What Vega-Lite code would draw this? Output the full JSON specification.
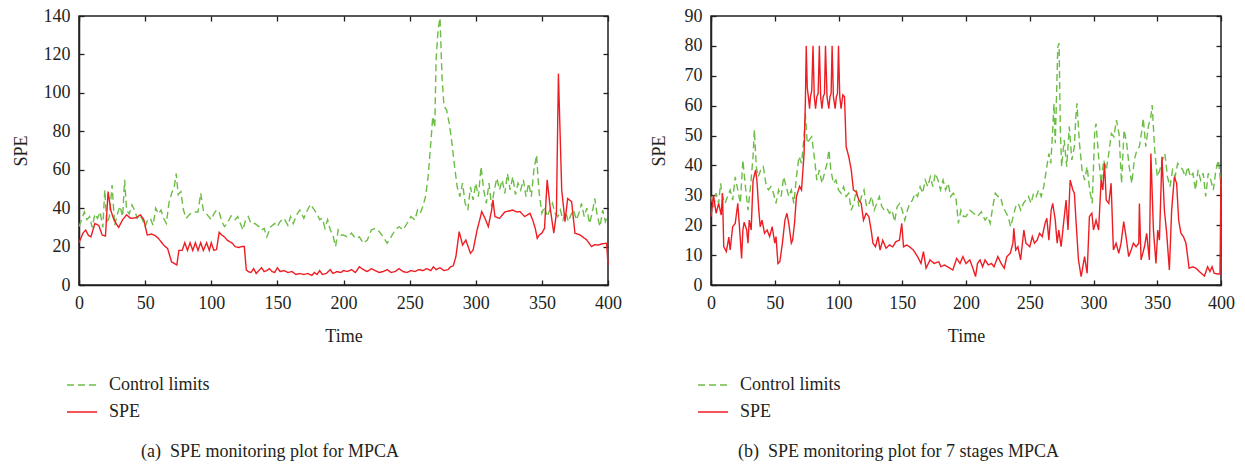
{
"$schema": "https://vega.github.io/schema/vega-lite/v6.json",
"background": "white",
"padding": {"left": 11, "top": 6, "right": 5, "bottom": 5},
"spacing": 26,
"config": {
  "font": "Liberation Serif",
  "view": {"stroke": "#231f20", "strokeWidth": 1.5},
  "axis": {"labelFont": "Liberation Serif", "titleFont": "Liberation Serif", "labelFontSize": 18, "titleFontSize": 18, "titleFontWeight": "normal", "labelColor": "#231f20", "titleColor": "#231f20", "domainColor": "#231f20", "domainWidth": 1.5, "tickColor": "#231f20", "tickSize": -5, "tickWidth": 1.3, "grid": false, "labelPadding": 14, "labelFlush": false},
  "legend": {"labelFont": "Liberation Serif", "labelFontSize": 18, "labelColor": "#231f20", "symbolType": "stroke", "symbolSize": 900, "symbolStrokeWidth": 1.4, "labelOffset": 11, "rowPadding": 2, "orient": "none", "title": null},
  "title": {"font": "Liberation Serif", "fontSize": 18, "fontWeight": "normal", "color": "#231f20"}
},
"resolve": {"scale": {"color": "independent", "strokeDash": "independent"}, "legend": {"color": "independent", "strokeDash": "independent"}},
"datasets": {
"aC": [{"t":0,"v":30.4},{"t":2,"v":34},{"t":4,"v":38},{"t":6,"v":34},{"t":8,"v":35.6},{"t":10,"v":30},{"t":12,"v":37},{"t":14,"v":34.7},{"t":16,"v":38},{"t":18,"v":30},{"t":19.5,"v":49.5},{"t":21,"v":32},{"t":23,"v":35.6},{"t":25,"v":52},{"t":27,"v":31},{"t":29,"v":37},{"t":31,"v":41},{"t":33,"v":35.6},{"t":34.5,"v":54.7},{"t":36,"v":39},{"t":38,"v":37},{"t":40,"v":41.7},{"t":42,"v":39},{"t":44,"v":34.7},{"t":46,"v":36.5},{"t":48,"v":34},{"t":50,"v":30.4},{"t":52,"v":34},{"t":54,"v":34.7},{"t":56,"v":31},{"t":58,"v":40},{"t":60,"v":37},{"t":62,"v":39},{"t":64,"v":34.7},{"t":66,"v":32},{"t":68,"v":42.5},{"t":70,"v":47.7},{"t":72,"v":51},{"t":73.5,"v":58},{"t":75,"v":47},{"t":77,"v":48.6},{"t":79,"v":39},{"t":81,"v":34.7},{"t":84,"v":37},{"t":87,"v":38},{"t":90,"v":38},{"t":92,"v":47.7},{"t":94,"v":39},{"t":97,"v":36.5},{"t":100,"v":34},{"t":102,"v":37},{"t":104,"v":39},{"t":106,"v":38},{"t":108,"v":33},{"t":110,"v":30.4},{"t":112,"v":32},{"t":115,"v":36},{"t":118,"v":34},{"t":120,"v":35.6},{"t":122,"v":32},{"t":124,"v":28.6},{"t":126,"v":34},{"t":128,"v":35.6},{"t":130,"v":32},{"t":133,"v":32},{"t":136,"v":30.4},{"t":138,"v":28.6},{"t":140,"v":29.5},{"t":142,"v":25},{"t":145,"v":30.4},{"t":148,"v":32},{"t":150,"v":30.4},{"t":152,"v":33},{"t":155,"v":34.7},{"t":158,"v":31},{"t":160,"v":35.6},{"t":162,"v":32},{"t":165,"v":37},{"t":167,"v":39},{"t":170,"v":34.7},{"t":172,"v":38},{"t":175,"v":42},{"t":177,"v":40},{"t":180,"v":37},{"t":182,"v":34},{"t":184,"v":34.7},{"t":186,"v":29.5},{"t":188,"v":34},{"t":190,"v":28.6},{"t":192,"v":26},{"t":194,"v":20},{"t":196,"v":28.6},{"t":198,"v":26},{"t":200,"v":26},{"t":203,"v":25},{"t":206,"v":27},{"t":209,"v":24.3},{"t":212,"v":25},{"t":215,"v":21.7},{"t":218,"v":23.4},{"t":221,"v":28.6},{"t":224,"v":29.5},{"t":227,"v":27.8},{"t":230,"v":25},{"t":233,"v":21.7},{"t":236,"v":25},{"t":239,"v":28.6},{"t":242,"v":30.4},{"t":245,"v":28.6},{"t":248,"v":32},{"t":251,"v":35.6},{"t":254,"v":33.9},{"t":256,"v":39},{"t":258,"v":37.3},{"t":260,"v":40.8},{"t":262,"v":46},{"t":264,"v":56.4},{"t":266,"v":73.8},{"t":267.5,"v":87.7},{"t":269,"v":82},{"t":270,"v":117},{"t":271.5,"v":132.8},{"t":273,"v":139},{"t":274.5,"v":108},{"t":276,"v":93},{"t":278,"v":91},{"t":280,"v":84},{"t":282,"v":73.8},{"t":284,"v":61.6},{"t":286,"v":51},{"t":288,"v":46},{"t":290,"v":53},{"t":292,"v":42.5},{"t":294,"v":39},{"t":296,"v":51},{"t":298,"v":44.3},{"t":300,"v":53},{"t":302,"v":46},{"t":304,"v":61.6},{"t":306,"v":49.5},{"t":308,"v":42.5},{"t":310,"v":53},{"t":312,"v":40.8},{"t":314,"v":49.5},{"t":316,"v":55.6},{"t":318,"v":49.5},{"t":320,"v":54.7},{"t":322,"v":47.7},{"t":324,"v":58},{"t":326,"v":49.5},{"t":328,"v":56.4},{"t":330,"v":47},{"t":332,"v":53},{"t":334,"v":49.5},{"t":336,"v":54.7},{"t":338,"v":46},{"t":340,"v":53},{"t":342,"v":46},{"t":344,"v":60},{"t":346,"v":67.7},{"t":347,"v":56.4},{"t":348,"v":47.7},{"t":350,"v":37.3},{"t":352,"v":40.8},{"t":354,"v":35.6},{"t":356,"v":39},{"t":358,"v":42.5},{"t":360,"v":37.3},{"t":362,"v":35.6},{"t":364,"v":39},{"t":366,"v":33.9},{"t":368,"v":38.2},{"t":370,"v":33},{"t":372,"v":36.5},{"t":374,"v":39},{"t":376,"v":33.9},{"t":378,"v":37.3},{"t":380,"v":42.5},{"t":382,"v":35.6},{"t":384,"v":40},{"t":386,"v":32},{"t":388,"v":37.3},{"t":390,"v":45},{"t":392,"v":35.6},{"t":394,"v":30.4},{"t":396,"v":39},{"t":398,"v":33},{"t":400,"v":36.5}],
"aS": [{"t":0,"v":22},{"t":3,"v":27},{"t":5,"v":28.6},{"t":7,"v":26},{"t":9,"v":25},{"t":12,"v":32},{"t":15,"v":31},{"t":17.5,"v":26},{"t":20,"v":25.5},{"t":22,"v":48.6},{"t":24,"v":39},{"t":26,"v":34.7},{"t":28,"v":32},{"t":30,"v":30},{"t":33,"v":34},{"t":36,"v":36.5},{"t":39,"v":34.7},{"t":43,"v":35},{"t":46.5,"v":36.5},{"t":49,"v":34},{"t":51.6,"v":26},{"t":55,"v":26.5},{"t":58,"v":25.5},{"t":60,"v":24.3},{"t":64,"v":20.8},{"t":67,"v":19},{"t":70,"v":12},{"t":74,"v":10.4},{"t":75.5,"v":18},{"t":78,"v":18},{"t":80,"v":22},{"t":82,"v":18},{"t":84,"v":22},{"t":86,"v":18},{"t":88,"v":22},{"t":90,"v":18},{"t":92,"v":22},{"t":94,"v":18},{"t":96.5,"v":22},{"t":98.5,"v":18},{"t":100,"v":22},{"t":102,"v":18},{"t":104,"v":18.5},{"t":106,"v":27.4},{"t":108,"v":26},{"t":110,"v":25},{"t":112,"v":23.4},{"t":114,"v":22.5},{"t":116,"v":21.7},{"t":118,"v":20},{"t":121,"v":19.5},{"t":123,"v":20},{"t":125,"v":20},{"t":126.5,"v":7.8},{"t":128,"v":7},{"t":130,"v":6.5},{"t":132,"v":8.5},{"t":134,"v":6},{"t":136,"v":7.5},{"t":138,"v":9},{"t":140,"v":7},{"t":142,"v":7.5},{"t":144,"v":8.5},{"t":146,"v":7},{"t":148,"v":6.5},{"t":150,"v":9},{"t":152,"v":7},{"t":155,"v":7.5},{"t":158,"v":6.5},{"t":161,"v":7},{"t":164,"v":5.5},{"t":167,"v":6},{"t":170,"v":5.5},{"t":173,"v":6},{"t":176,"v":5},{"t":178,"v":6.5},{"t":180,"v":5.5},{"t":182,"v":7.5},{"t":184,"v":5.5},{"t":187,"v":6},{"t":190,"v":8},{"t":192,"v":6},{"t":195,"v":7},{"t":198,"v":6.5},{"t":200,"v":7.5},{"t":203,"v":7},{"t":206,"v":8},{"t":209,"v":6.5},{"t":212,"v":9.5},{"t":215,"v":8},{"t":218,"v":7},{"t":221,"v":8.5},{"t":224,"v":7.5},{"t":227,"v":6.5},{"t":230,"v":7},{"t":233,"v":8},{"t":236,"v":6.5},{"t":239,"v":7},{"t":242,"v":8.5},{"t":245,"v":7},{"t":248,"v":6.5},{"t":251,"v":7.5},{"t":254,"v":7},{"t":257,"v":8},{"t":260,"v":7.5},{"t":263,"v":8.5},{"t":266,"v":7.5},{"t":268,"v":9.5},{"t":270,"v":8},{"t":273,"v":9},{"t":276,"v":7.5},{"t":279,"v":8},{"t":281,"v":9.5},{"t":283,"v":10},{"t":285,"v":14.8},{"t":287.5,"v":27.8},{"t":290,"v":20.8},{"t":292.5,"v":23.4},{"t":296,"v":16.5},{"t":298,"v":18.2},{"t":301,"v":28.6},{"t":303,"v":33.9},{"t":304.5,"v":38.2},{"t":307,"v":34.7},{"t":309.5,"v":30.4},{"t":312,"v":39},{"t":313,"v":44.3},{"t":314.5,"v":35.6},{"t":318,"v":34.7},{"t":322,"v":38},{"t":325,"v":38.5},{"t":328,"v":39},{"t":331,"v":38},{"t":333.5,"v":38.2},{"t":337,"v":35.6},{"t":341,"v":37.3},{"t":343,"v":34},{"t":345,"v":29.5},{"t":346.5,"v":24.3},{"t":348,"v":26},{"t":350,"v":27},{"t":352,"v":29.5},{"t":354,"v":54.7},{"t":356.5,"v":39},{"t":359,"v":27},{"t":361,"v":37.3},{"t":362.5,"v":110},{"t":365,"v":49.5},{"t":367.5,"v":33},{"t":369.5,"v":45},{"t":372.5,"v":43.4},{"t":375,"v":27},{"t":379,"v":26},{"t":384,"v":23.4},{"t":387.5,"v":20},{"t":390,"v":21},{"t":392.5,"v":20.8},{"t":396,"v":21.5},{"t":399,"v":21.7},{"t":400,"v":10.4}],
"bC": [{"t":0,"v":29.6},{"t":2,"v":26},{"t":4,"v":30.7},{"t":6,"v":27.3},{"t":7.5,"v":34},{"t":9,"v":29.6},{"t":11,"v":27.3},{"t":13,"v":29.6},{"t":15,"v":31.8},{"t":17,"v":28.4},{"t":19,"v":36.2},{"t":21,"v":31.8},{"t":23,"v":27.3},{"t":25,"v":41.8},{"t":27,"v":32.9},{"t":29,"v":25},{"t":31,"v":32.9},{"t":33,"v":43},{"t":34,"v":51.9},{"t":35.5,"v":39.6},{"t":37,"v":36.2},{"t":39,"v":38.5},{"t":41,"v":39.6},{"t":43,"v":34},{"t":45,"v":31.8},{"t":47,"v":32.9},{"t":49,"v":30.7},{"t":51,"v":27.3},{"t":53,"v":31.8},{"t":55,"v":29.6},{"t":57,"v":36.2},{"t":59,"v":32.9},{"t":61,"v":29.6},{"t":63,"v":31.8},{"t":65,"v":27.3},{"t":67,"v":36.2},{"t":69,"v":43},{"t":71,"v":40.7},{"t":73,"v":49.6},{"t":74,"v":57.4},{"t":75.5,"v":47.4},{"t":77,"v":48.5},{"t":79,"v":49.6},{"t":81,"v":43},{"t":83,"v":35.1},{"t":85,"v":38.5},{"t":87,"v":34},{"t":89,"v":37.4},{"t":91,"v":40.7},{"t":92.5,"v":45.2},{"t":94,"v":38.5},{"t":96,"v":34},{"t":98,"v":35.1},{"t":100,"v":31.8},{"t":102,"v":30.7},{"t":104,"v":32.9},{"t":106,"v":29.6},{"t":108,"v":30.7},{"t":110,"v":25},{"t":112,"v":27.3},{"t":114,"v":31.8},{"t":116,"v":26.2},{"t":118,"v":29.6},{"t":120,"v":31.8},{"t":122,"v":26.2},{"t":124,"v":27.3},{"t":126,"v":29.6},{"t":128,"v":25},{"t":130,"v":27.3},{"t":132,"v":29.6},{"t":134,"v":26.2},{"t":136,"v":25},{"t":138,"v":25.6},{"t":140,"v":24},{"t":142,"v":25},{"t":144,"v":21.2},{"t":146,"v":26.2},{"t":148,"v":27.3},{"t":150,"v":25},{"t":152,"v":21.7},{"t":154,"v":25},{"t":156,"v":27.3},{"t":158,"v":28.4},{"t":160,"v":30.7},{"t":162,"v":29.6},{"t":164,"v":32.9},{"t":166,"v":30.7},{"t":168,"v":35.1},{"t":170,"v":32.9},{"t":172,"v":36.2},{"t":174,"v":32.9},{"t":176,"v":37.4},{"t":178,"v":35.1},{"t":180,"v":31.8},{"t":182,"v":35.1},{"t":184,"v":31.8},{"t":186,"v":34},{"t":188,"v":29.6},{"t":190,"v":30.7},{"t":192,"v":29.6},{"t":194,"v":20.6},{"t":196,"v":25},{"t":198,"v":22.9},{"t":200,"v":22.9},{"t":203,"v":25},{"t":206,"v":24},{"t":209,"v":22.9},{"t":212,"v":24.5},{"t":215,"v":21.7},{"t":217,"v":22.9},{"t":219,"v":20.6},{"t":221,"v":26.2},{"t":223,"v":30.7},{"t":225,"v":29.6},{"t":227,"v":29.6},{"t":229,"v":26.2},{"t":231,"v":24.5},{"t":233,"v":22.9},{"t":235,"v":19.5},{"t":237,"v":22.9},{"t":239,"v":26.2},{"t":241,"v":27.3},{"t":243,"v":25},{"t":245,"v":27.3},{"t":247,"v":28.4},{"t":249,"v":29.6},{"t":251,"v":27.3},{"t":253,"v":30.7},{"t":255,"v":29.6},{"t":257,"v":31.8},{"t":259,"v":29.6},{"t":261,"v":32.9},{"t":263,"v":38.5},{"t":265,"v":44},{"t":266.5,"v":40.7},{"t":268,"v":51.9},{"t":269,"v":60.8},{"t":270,"v":47.4},{"t":271,"v":63},{"t":272,"v":79.7},{"t":273,"v":80.9},{"t":274,"v":51.9},{"t":275,"v":39.6},{"t":277,"v":48.5},{"t":279,"v":39.6},{"t":281,"v":53},{"t":283,"v":41.8},{"t":285,"v":46.3},{"t":286,"v":55.2},{"t":287,"v":60.8},{"t":289,"v":47.4},{"t":291,"v":38.5},{"t":293,"v":35.1},{"t":295,"v":39.6},{"t":297,"v":31.8},{"t":299,"v":27.3},{"t":301,"v":51.9},{"t":302,"v":54},{"t":304,"v":42.9},{"t":306,"v":34},{"t":308,"v":41.8},{"t":310,"v":38.5},{"t":312,"v":44},{"t":314,"v":50.7},{"t":316,"v":49.6},{"t":318,"v":55.2},{"t":320,"v":50.7},{"t":322,"v":34},{"t":324,"v":51.9},{"t":326,"v":47.4},{"t":328,"v":39.6},{"t":330,"v":34},{"t":332,"v":41.8},{"t":334,"v":45.2},{"t":336,"v":46.3},{"t":338,"v":51.9},{"t":339,"v":55.8},{"t":341,"v":46.3},{"t":343,"v":53},{"t":345,"v":56.3},{"t":346,"v":60.2},{"t":348,"v":45.2},{"t":350,"v":36.2},{"t":352,"v":38.5},{"t":354,"v":41.8},{"t":356,"v":44},{"t":358,"v":36.2},{"t":360,"v":32.9},{"t":362,"v":38.5},{"t":364,"v":36.2},{"t":366,"v":40.7},{"t":368,"v":39.6},{"t":370,"v":38.5},{"t":372,"v":36.2},{"t":374,"v":39.6},{"t":376,"v":36.2},{"t":378,"v":37.4},{"t":380,"v":31.8},{"t":382,"v":38.5},{"t":384,"v":35.1},{"t":386,"v":37.4},{"t":388,"v":29.6},{"t":390,"v":37.4},{"t":392,"v":35.1},{"t":394,"v":31.8},{"t":396,"v":38.5},{"t":398,"v":41.8},{"t":400,"v":32.9}],
"bS": [{"t":0,"v":22.9},{"t":2,"v":30},{"t":4,"v":24},{"t":6,"v":27.3},{"t":8,"v":23.4},{"t":9,"v":30.7},{"t":10,"v":12.8},{"t":12,"v":11.2},{"t":14,"v":16},{"t":15,"v":11.7},{"t":17,"v":19.5},{"t":19,"v":20.6},{"t":21,"v":27.3},{"t":22.5,"v":18.4},{"t":24,"v":8.9},{"t":25,"v":18.4},{"t":26,"v":21},{"t":28,"v":18.4},{"t":29,"v":14},{"t":30,"v":21.7},{"t":31.5,"v":18.4},{"t":33,"v":35},{"t":35,"v":38.5},{"t":36,"v":35},{"t":37.5,"v":25},{"t":38.6,"v":19.5},{"t":40,"v":21.7},{"t":42,"v":17.3},{"t":44,"v":18.4},{"t":46,"v":16.2},{"t":48,"v":19.5},{"t":50,"v":14},{"t":51,"v":16.2},{"t":52.5,"v":7.2},{"t":54,"v":7.8},{"t":56,"v":14},{"t":58,"v":21.7},{"t":59.5,"v":24},{"t":61,"v":20.6},{"t":63,"v":14},{"t":64,"v":15},{"t":65.5,"v":20.6},{"t":67,"v":29.6},{"t":69.5,"v":33},{"t":71,"v":31.8},{"t":73,"v":44},{"t":74,"v":60.8},{"t":74.7,"v":80},{"t":75.5,"v":66},{"t":76.5,"v":62.5},{"t":77.3,"v":59},{"t":78,"v":63},{"t":79,"v":65},{"t":80,"v":80},{"t":81,"v":63},{"t":82,"v":59},{"t":83,"v":63},{"t":84,"v":64},{"t":85,"v":80},{"t":86,"v":63},{"t":87,"v":59},{"t":88,"v":63},{"t":89,"v":64},{"t":89.8,"v":80},{"t":91,"v":63},{"t":92.4,"v":59},{"t":93.3,"v":63},{"t":94.2,"v":64},{"t":95,"v":80},{"t":96,"v":63},{"t":97.4,"v":59},{"t":98.3,"v":63},{"t":99.2,"v":64},{"t":100,"v":80},{"t":101,"v":63},{"t":102,"v":59},{"t":103.4,"v":63.6},{"t":104.7,"v":63},{"t":106,"v":46.3},{"t":108,"v":43},{"t":110,"v":38.5},{"t":111.7,"v":31.8},{"t":113.8,"v":31.2},{"t":116,"v":28.4},{"t":117.8,"v":27.3},{"t":119.6,"v":21.7},{"t":121.7,"v":24},{"t":123.8,"v":22.9},{"t":125.6,"v":18.4},{"t":127,"v":14},{"t":129,"v":12.8},{"t":131,"v":16.2},{"t":132.6,"v":11.7},{"t":134.7,"v":15},{"t":137.3,"v":12.3},{"t":140,"v":13.4},{"t":142.6,"v":12.8},{"t":145,"v":14.5},{"t":147.8,"v":15},{"t":149.6,"v":20.6},{"t":151,"v":12.8},{"t":153.5,"v":13.4},{"t":155.6,"v":12.8},{"t":158.7,"v":11.7},{"t":162,"v":9.5},{"t":164.7,"v":7.2},{"t":166.6,"v":11.2},{"t":168.7,"v":5.6},{"t":171.8,"v":8.4},{"t":175,"v":7.2},{"t":178.6,"v":7.8},{"t":180.4,"v":6.1},{"t":183,"v":6.7},{"t":186.4,"v":5.9},{"t":189.6,"v":5},{"t":192.7,"v":8.9},{"t":195.3,"v":7.2},{"t":197.6,"v":9.5},{"t":200,"v":7.2},{"t":203,"v":8.4},{"t":205.4,"v":5.6},{"t":207.5,"v":2.8},{"t":209,"v":7.2},{"t":211,"v":8.4},{"t":213,"v":6.1},{"t":215,"v":8.4},{"t":217.5,"v":6.7},{"t":220,"v":7.2},{"t":222,"v":6.1},{"t":225,"v":9.5},{"t":227.6,"v":7.2},{"t":230,"v":5.6},{"t":232,"v":9.5},{"t":234.7,"v":10.6},{"t":236.8,"v":14},{"t":237.5,"v":19},{"t":239,"v":11.7},{"t":240.7,"v":12.8},{"t":242.8,"v":8.4},{"t":245.4,"v":18.4},{"t":247,"v":14},{"t":250,"v":12.8},{"t":252,"v":16.2},{"t":253.7,"v":14},{"t":255.8,"v":15},{"t":257.7,"v":17.3},{"t":259.8,"v":16.2},{"t":262,"v":20.6},{"t":263.4,"v":22.3},{"t":265,"v":15},{"t":266.8,"v":25},{"t":268,"v":27.3},{"t":270,"v":21.7},{"t":271.5,"v":14},{"t":272.8,"v":18.4},{"t":274.6,"v":12.8},{"t":276.5,"v":20.6},{"t":278.5,"v":28.4},{"t":280,"v":18.4},{"t":281.7,"v":35.1},{"t":283.8,"v":31.8},{"t":285,"v":30.7},{"t":286.4,"v":20.6},{"t":288.2,"v":8.4},{"t":290.3,"v":2.8},{"t":293,"v":9.5},{"t":295,"v":3.9},{"t":296.8,"v":22.9},{"t":298.7,"v":24},{"t":300,"v":18.4},{"t":302,"v":21.7},{"t":304,"v":18.4},{"t":306,"v":35.1},{"t":307.3,"v":31.8},{"t":308.6,"v":40.7},{"t":310,"v":28.4},{"t":312,"v":27.3},{"t":313.8,"v":34},{"t":315.6,"v":11.7},{"t":317.7,"v":14},{"t":319.8,"v":10.6},{"t":321.6,"v":14},{"t":323.7,"v":21.2},{"t":325.5,"v":16.2},{"t":327.6,"v":9.5},{"t":329.5,"v":11.7},{"t":331.3,"v":14},{"t":333.4,"v":12.8},{"t":335.5,"v":14},{"t":336,"v":27.3},{"t":337.3,"v":8.4},{"t":340,"v":12.8},{"t":341.7,"v":17.3},{"t":343.8,"v":8.4},{"t":345,"v":44},{"t":347,"v":18.4},{"t":349,"v":7.2},{"t":350.4,"v":18.4},{"t":351.7,"v":15},{"t":353.7,"v":42.9},{"t":355.6,"v":25},{"t":357.4,"v":17.3},{"t":359.5,"v":5},{"t":361.3,"v":25},{"t":363.4,"v":36.2},{"t":365.2,"v":34},{"t":366.8,"v":21.7},{"t":368.6,"v":17.3},{"t":370.5,"v":16.2},{"t":372.5,"v":14},{"t":375,"v":5.6},{"t":377.8,"v":6.1},{"t":380.4,"v":5.6},{"t":383,"v":4.5},{"t":387,"v":3},{"t":389.5,"v":6.1},{"t":391.3,"v":4.5},{"t":393,"v":6.1},{"t":394.7,"v":3.9},{"t":397.3,"v":3.7},{"t":399.2,"v":3.7},{"t":400,"v":36.2}]
},
"hconcat": [
{
  "width": 529, "height": 269,
  "title": {"text": "(a)\u00a0 SPE monitoring plot for MPCA", "orient": "bottom", "anchor": "start", "frame": "group", "dx": 62, "offset": 22},
  "resolve": {"axis": {"x": "independent", "y": "independent"}},
  "layer": [
    {"data": {"name": "aC"}, "mark": {"type": "line", "strokeWidth": 1.4},
     "encoding": {
       "x": {"field": "t", "type": "quantitative", "scale": {"domain": [0, 400], "nice": false}, "axis": {"orient": "top", "labels": false, "title": null, "domain": false, "values": [0,50,100,150,200,250,300,350,400]}},
       "y": {"field": "v", "type": "quantitative", "scale": {"domain": [0, 140], "nice": false}, "axis": {"orient": "right", "labels": false, "title": null, "domain": false, "values": [0,20,40,60,80,100,120,140]}},
       "color": {"datum": "Control limits", "type": "nominal", "scale": {"domain": ["Control limits", "SPE"], "range": ["#6cbd45", "#ee1d23"]}, "legend": {"legendX": -13, "legendY": 353}},
       "strokeDash": {"datum": "Control limits", "type": "nominal", "scale": {"domain": ["Control limits", "SPE"], "range": [[7, 4], [1, 0]]}, "legend": {"legendX": -13, "legendY": 353}}
     }},
    {"data": {"name": "aS"}, "mark": {"type": "line", "strokeWidth": 1.4},
     "encoding": {
       "x": {"field": "t", "type": "quantitative", "scale": {"domain": [0, 400], "nice": false}, "axis": {"orient": "bottom", "title": "Time", "titlePadding": 15, "values": [0,50,100,150,200,250,300,350,400]}},
       "y": {"field": "v", "type": "quantitative", "scale": {"domain": [0, 140], "nice": false}, "axis": {"orient": "left", "title": "SPE", "titlePadding": 13, "values": [0,20,40,60,80,100,120,140]}},
       "color": {"datum": "SPE", "type": "nominal"},
       "strokeDash": {"datum": "SPE", "type": "nominal"}
     }}
  ]
},
{
  "width": 510, "height": 269,
  "title": {"text": "(b)\u00a0 SPE monitoring plot for 7 stages MPCA", "orient": "bottom", "anchor": "start", "frame": "group", "dx": 27, "offset": 22},
  "resolve": {"axis": {"x": "independent", "y": "independent"}},
  "layer": [
    {"data": {"name": "bC"}, "mark": {"type": "line", "strokeWidth": 1.4},
     "encoding": {
       "x": {"field": "t", "type": "quantitative", "scale": {"domain": [0, 400], "nice": false}, "axis": {"orient": "top", "labels": false, "title": null, "domain": false, "values": [0,50,100,150,200,250,300,350,400]}},
       "y": {"field": "v", "type": "quantitative", "scale": {"domain": [0, 90], "nice": false}, "axis": {"orient": "right", "labels": false, "title": null, "domain": false, "values": [0,10,20,30,40,50,60,70,80,90]}},
       "color": {"datum": "Control limits", "type": "nominal", "scale": {"domain": ["Control limits", "SPE"], "range": ["#6cbd45", "#ee1d23"]}, "legend": {"legendX": -14, "legendY": 353}},
       "strokeDash": {"datum": "Control limits", "type": "nominal", "scale": {"domain": ["Control limits", "SPE"], "range": [[7, 4], [1, 0]]}, "legend": {"legendX": -14, "legendY": 353}}
     }},
    {"data": {"name": "bS"}, "mark": {"type": "line", "strokeWidth": 1.4},
     "encoding": {
       "x": {"field": "t", "type": "quantitative", "scale": {"domain": [0, 400], "nice": false}, "axis": {"orient": "bottom", "title": "Time", "titlePadding": 15, "values": [0,50,100,150,200,250,300,350,400]}},
       "y": {"field": "v", "type": "quantitative", "scale": {"domain": [0, 90], "nice": false}, "axis": {"orient": "left", "title": "SPE", "titlePadding": 16, "values": [0,10,20,30,40,50,60,70,80,90]}},
       "color": {"datum": "SPE", "type": "nominal"},
       "strokeDash": {"datum": "SPE", "type": "nominal"}
     }}
  ]
}
]
}
